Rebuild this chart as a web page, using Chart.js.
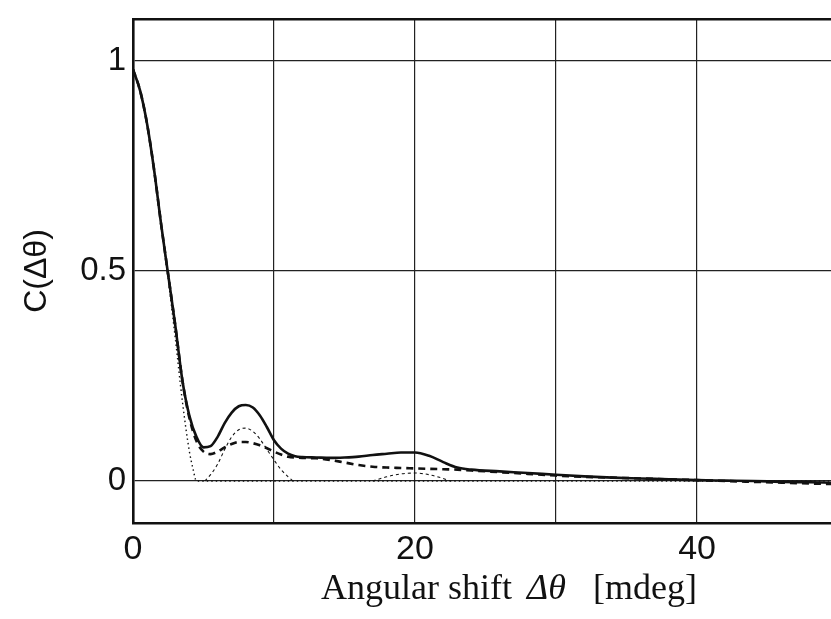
<!DOCTYPE html>
<html>
<head>
<meta charset="utf-8">
<script src="https://cdn.jsdelivr.net/npm/chart.js@4/dist/chart.umd.min.js"></script>
<style>
html,body{margin:0;padding:0;background:#fff;}
#wrap{position:relative;width:831px;height:619px;}
</style>
</head>
<body>
<div id="wrap"><canvas id="c" width="831" height="619"></canvas></div>
<script>
// ---- data ----
const xMain = [0,0.5,1,1.5,2,2.5,3,3.5,4,4.5,5,5.5,6,6.5,7,7.5,8,8.5,9,9.5,10,10.5,11,11.5,12,13,14,15,16,17,18,19,20,21,22,23,24,26,28,30,32,34,36,38,40,42,44,46,48,49.5];
const ySolid = [0.98,0.93,0.85,0.74,0.61,0.49,0.37,0.24,0.155,0.105,0.08,0.083,0.105,0.138,0.163,0.178,0.181,0.175,0.156,0.128,0.097,0.077,0.065,0.059,0.057,0.056,0.055,0.056,0.058,0.062,0.065,0.068,0.068,0.06,0.045,0.032,0.027,0.023,0.019,0.015,0.011,0.008,0.006,0.004,0.002,0.001,0,-0.002,-0.003,-0.004];
const yDashed = [0.98,0.93,0.85,0.74,0.61,0.49,0.37,0.24,0.15,0.095,0.07,0.064,0.07,0.08,0.088,0.093,0.093,0.09,0.085,0.078,0.07,0.063,0.058,0.056,0.055,0.054,0.05,0.044,0.038,0.034,0.032,0.031,0.03,0.029,0.028,0.027,0.025,0.021,0.017,0.013,0.01,0.008,0.006,0.004,0.002,0,-0.002,-0.004,-0.006,-0.007];
const xCentral = [0,0.5,1,1.5,2,2.5,3,3.5,4,4.25,4.5,49.5];
const yCentral = [0.98,0.93,0.85,0.74,0.61,0.48,0.34,0.19,0.07,0.03,0,0];
const xSide = [5.1,5.5,6,6.5,7,7.5,8,8.5,9,9.5,10,10.5,11,11.35,14,17,18,19,20,21,22,22.5];
const ySide = [0,0.015,0.04,0.075,0.105,0.122,0.126,0.118,0.1,0.075,0.05,0.027,0.01,0,null,0,0.01,0.017,0.019,0.015,0.006,0];
const xTicks = [0,10,20,30,40];
const xTickLabels = ['0','','20','','40'];
const yTicks = [0,0.5,1];
const yTickLabels = ['0','0.5','1'];
const xTitleParts = ['Angular shift', '\u0394\u03B8', '[mdeg]'];
const yTitle = 'C(\u0394\u03B8)';

const pts = (xs, ys) => xs.map((x, i) => ({x: x, y: ys[i]}));
const INK = '#111';

const xTitlePlugin = {
  id: 'xTitle',
  afterDraw(chart) {
    const ctx = chart.ctx;
    ctx.save();
    ctx.fillStyle = INK;
    ctx.textBaseline = 'alphabetic';
    ctx.textAlign = 'left';
    const y = 599;
    ctx.font = '36px "Liberation Serif"';
    ctx.fillText(xTitleParts[0], 321, y);
    ctx.font = 'italic 36px "Liberation Serif"';
    ctx.fillText(xTitleParts[1], 527, y);
    ctx.font = '36px "Liberation Serif"';
    ctx.fillText(xTitleParts[2], 593, y);
    ctx.restore();
  }
};

const noPad = (s) => { s.paddingTop = 0; s.paddingBottom = 0; s.paddingLeft = 0; s.paddingRight = 0; };

new Chart(document.getElementById('c'), {
  type: 'line',
  data: {
    datasets: [
      {data: pts(xMain, ySolid), borderColor: INK, borderWidth: 2.6, pointRadius: 0, cubicInterpolationMode: 'monotone', fill: false},
      {data: pts(xMain, yDashed), borderColor: INK, borderWidth: 2.6, borderDash: [7, 5], pointRadius: 0, cubicInterpolationMode: 'monotone', fill: false},
      {data: pts(xSide, ySide), borderColor: INK, borderWidth: 1.1, borderDash: [3, 3], pointRadius: 0, cubicInterpolationMode: 'monotone', spanGaps: false, fill: false},
      {data: pts(xCentral, yCentral), borderColor: INK, borderWidth: 1.4, borderDash: [1.5, 3], pointRadius: 0, cubicInterpolationMode: 'monotone', fill: false}
    ]
  },
  options: {
    responsive: false,
    devicePixelRatio: 1,
    animation: false,
    events: [],
    layout: {padding: 0},
    plugins: {legend: {display: false}, tooltip: {enabled: false}, title: {display: false}},
    scales: {
      x: {
        type: 'linear', position: 'bottom', min: 0, max: 49.5,
        afterBuildTicks: (s) => { s.ticks = xTicks.map(v => ({value: v})); },
        afterFit: (s) => { s.height = 96; noPad(s); },
        ticks: {
          autoSkip: false, maxRotation: 0, padding: 6, color: INK,
          font: {family: '"Liberation Sans", Arial, sans-serif', size: 34},
          callback: (v, i) => xTickLabels[i]
        },
        grid: {color: '#222', lineWidth: 1.2, drawTicks: false},
        border: {display: true, color: INK, width: 2.6}
      },
      x2: {
        type: 'linear', position: 'top', min: 0, max: 49.5,
        afterFit: (s) => { s.height = 19; noPad(s); },
        ticks: {display: false},
        grid: {display: false, drawTicks: false},
        border: {display: true, color: INK, width: 2.6}
      },
      y: {
        type: 'linear', min: -0.1, max: 1.1,
        afterBuildTicks: (s) => { s.ticks = yTicks.map(v => ({value: v})); },
        afterFit: (s) => { s.width = 133; noPad(s); },
        ticks: {
          padding: 7, color: INK,
          font: {family: '"Liberation Sans", Arial, sans-serif', size: 33},
          callback: (v, i) => yTickLabels[i]
        },
        grid: {color: '#222', lineWidth: 1.2, drawTicks: false},
        border: {display: true, color: INK, width: 2.6},
        title: {
          display: true, text: yTitle, color: INK,
          font: {family: '"Liberation Sans", Arial, sans-serif', size: 32},
          padding: {top: 18, bottom: 0}
        }
      }
    }
  },
  plugins: [xTitlePlugin]
});
</script>
</body>
</html>
